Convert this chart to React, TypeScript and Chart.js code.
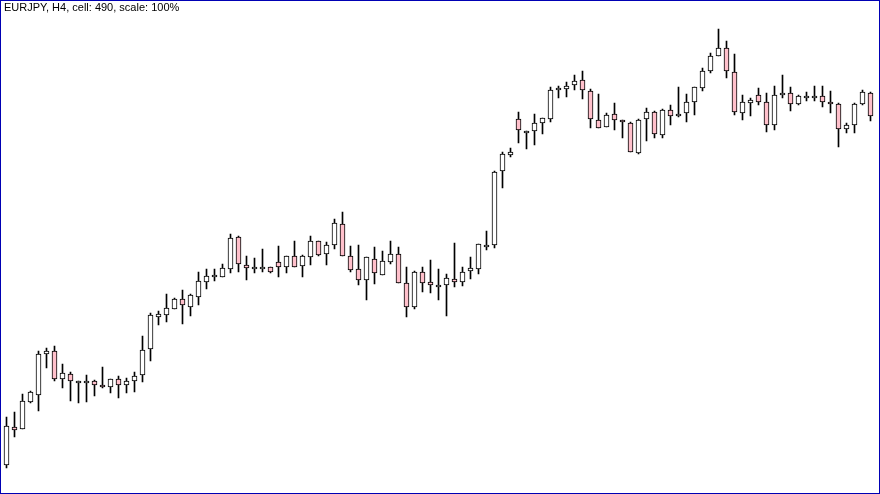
import React, { useEffect, useRef } from "react";
import { Chart, registerables } from "chart.js";

Chart.register(...registerables);

const title = "EURJPY, H4, cell: 490, scale: 100%";

const openV = [29, 67, 65, 92, 99, 140, 143, 115, 120, 111, 111, 113, 109, 107, 115, 109, 113, 119, 145, 177, 179, 185, 195, 187, 197, 212, 217, 217, 225, 257, 229, 225, 225, 227, 232, 227, 238, 228, 237, 253, 240, 249, 270, 238, 225, 214, 235, 219, 232, 240, 211, 187, 222, 212, 207, 209, 215, 212, 223, 225, 247, 249, 323, 339, 375, 361, 363, 371, 375, 404, 405, 409, 414, 403, 374, 367, 380, 374, 371, 341, 375, 382, 359, 384, 378, 381, 392, 406, 423, 438, 446, 422, 381, 391, 399, 392, 369, 399, 401, 390, 396, 396, 398, 392, 390, 365, 369, 390, 401];
const highV = [77, 82, 100, 103, 143, 146, 148, 130, 122, 113, 119, 114, 127, 115, 118, 116, 122, 158, 181, 183, 200, 196, 204, 200, 222, 225, 225, 230, 260, 258, 238, 236, 245, 227, 248, 238, 253, 239, 258, 253, 252, 275, 282, 248, 249, 237, 247, 243, 253, 247, 227, 223, 227, 234, 225, 220, 251, 227, 237, 250, 263, 323, 342, 346, 382, 363, 380, 376, 407, 408, 412, 419, 423, 405, 400, 381, 391, 374, 372, 375, 386, 383, 385, 389, 407, 400, 407, 426, 441, 465, 453, 440, 399, 396, 406, 401, 408, 419, 407, 399, 402, 408, 408, 403, 391, 371, 391, 404, 402];
const lowV = [26, 57, 65, 91, 83, 126, 113, 106, 93, 91, 92, 98, 106, 101, 96, 101, 102, 112, 133, 169, 172, 185, 170, 178, 189, 205, 213, 217, 221, 222, 214, 221, 222, 221, 217, 221, 227, 217, 229, 238, 229, 245, 238, 222, 209, 194, 210, 219, 230, 211, 177, 185, 202, 201, 194, 178, 207, 208, 215, 220, 244, 246, 306, 337, 351, 345, 349, 360, 372, 396, 397, 404, 395, 366, 366, 367, 364, 356, 342, 340, 353, 356, 356, 369, 377, 372, 379, 403, 421, 438, 416, 379, 374, 378, 389, 362, 364, 396, 383, 389, 393, 393, 387, 381, 347, 361, 361, 389, 373];
const closeV = [68, 64, 93, 102, 140, 143, 115, 121, 113, 113, 113, 109, 107, 115, 109, 113, 118, 144, 179, 180, 186, 195, 189, 199, 213, 218, 219, 226, 256, 230, 226, 227, 227, 222, 227, 238, 227, 238, 253, 239, 249, 271, 238, 224, 214, 237, 221, 233, 240, 211, 187, 222, 211, 209, 209, 216, 212, 222, 226, 250, 249, 322, 340, 342, 364, 363, 371, 376, 404, 406, 408, 413, 404, 375, 366, 379, 374, 372, 342, 374, 382, 360, 384, 378, 380, 392, 407, 423, 438, 446, 423, 382, 392, 394, 392, 369, 399, 401, 390, 398, 398, 398, 392, 390, 365, 369, 390, 402, 378];

const BULL = "#ffffff";
const BEAR = "#ffc0cb";

export default function App() {
  const ref = useRef<HTMLCanvasElement | null>(null);

  useEffect(() => {
    if (!ref.current) return;
    const labels = openV.map((_, i) => String(i));
    const chart = new Chart(ref.current, {
      type: "bar",
      data: {
        labels,
        datasets: [
          {
            label: "wick",
            data: lowV.map((l, i) => [l, highV[i]]) as any,
            backgroundColor: "#000000",
            borderWidth: 0,
            barThickness: 1,
            grouped: false,
            order: 2,
          } as any,
          {
            label: "body",
            data: openV.map((o, i) => [o, closeV[i]]) as any,
            backgroundColor: openV.map((o, i) => (closeV[i] < o ? BEAR : BULL)),
            borderColor: "#000000",
            borderWidth: 1,
            borderSkipped: false,
            barThickness: 5,
            grouped: false,
            order: 1,
          } as any,
        ],
      },
      options: {
        responsive: false,
        animation: false,
        devicePixelRatio: 1,
        layout: { padding: { left: 2.5, right: 5.5, top: 0, bottom: 0 } },
        plugins: { legend: { display: false }, tooltip: { enabled: false }, title: { display: false } },
        scales: {
          x: { type: "category", display: false, offset: true, grid: { display: false } },
          y: { type: "linear", display: false, min: 0, max: 494, grid: { display: false } },
        },
      },
    });
    return () => chart.destroy();
  }, []);

  return (
    <div style={{ position: "fixed", left: 0, top: 0, width: 880, height: 494, background: "#ffffff", overflow: "hidden" }}>
      <canvas ref={ref} width={880} height={494} style={{ position: "absolute", left: 0, top: 0, width: 880, height: 494 }} />
      <div
        style={{
          position: "absolute",
          left: 4,
          top: 1,
          fontFamily: "'Liberation Sans', Arial, sans-serif",
          fontSize: 11,
          color: "#000000",
          whiteSpace: "nowrap",
        }}
      >
        {title}
      </div>
      <div
        style={{
          position: "absolute",
          left: 0,
          top: 0,
          width: 880,
          height: 494,
          boxSizing: "border-box",
          border: "1px solid #0000b4",
          pointerEvents: "none",
        }}
      />
    </div>
  );
}
